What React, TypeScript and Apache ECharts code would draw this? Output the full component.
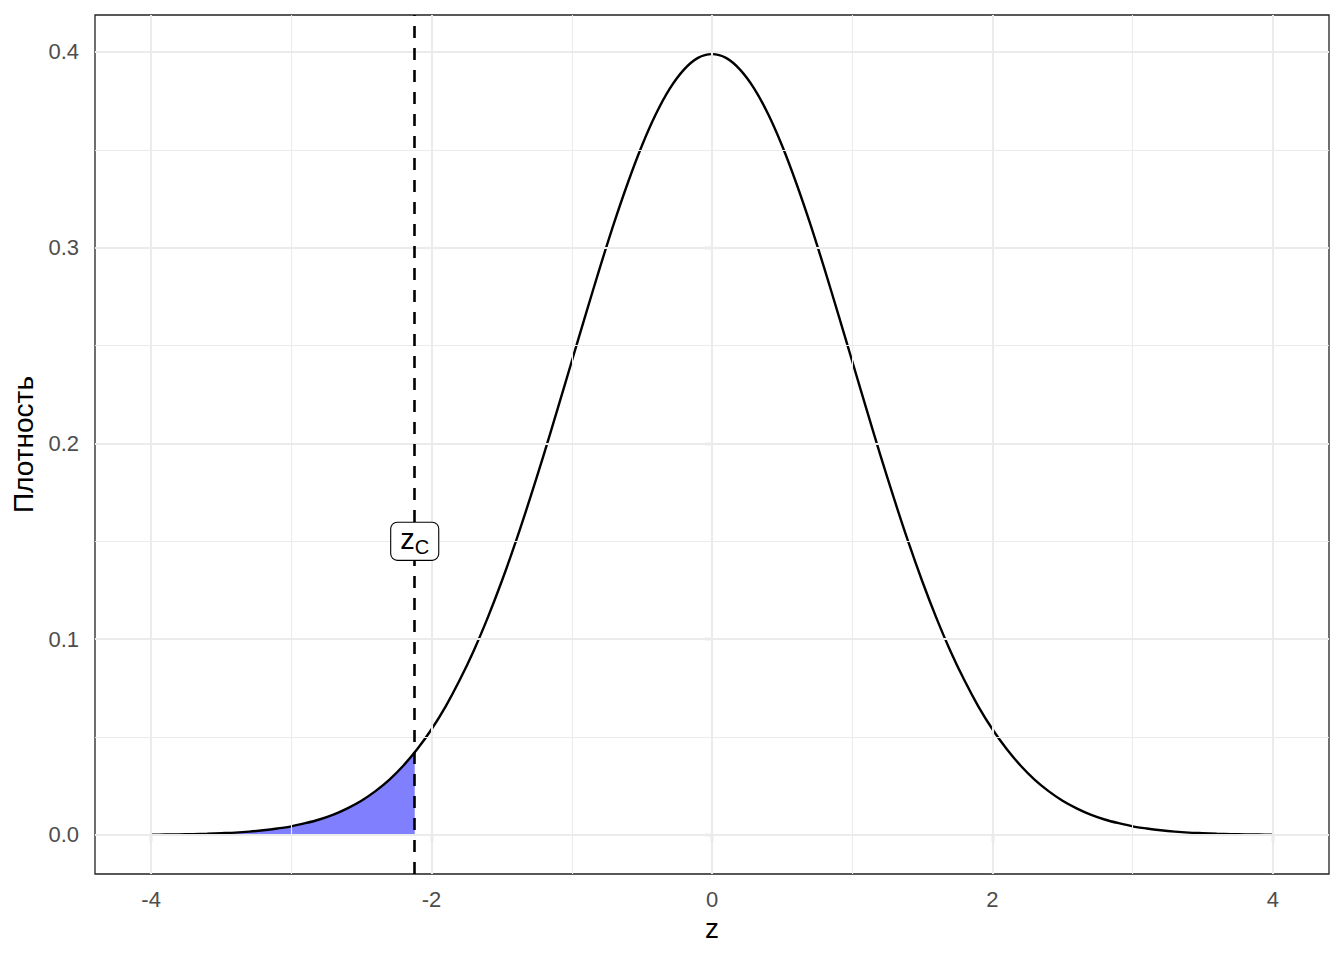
import React, { useEffect, useRef } from "react";
import * as echarts from "echarts";

const zValues = [
  -4.0, -3.9, -3.8, -3.7, -3.6, -3.5, -3.4, -3.3, -3.2, -3.1,
  -3.0, -2.9, -2.8, -2.7, -2.6, -2.5, -2.4, -2.3, -2.2, -2.1,
  -2.0, -1.9, -1.8, -1.7, -1.6, -1.5, -1.4, -1.3, -1.2, -1.1,
  -1.0, -0.9, -0.8, -0.7, -0.6, -0.5, -0.4, -0.3, -0.2, -0.1,
  0.0, 0.1, 0.2, 0.3, 0.4, 0.5, 0.6, 0.7, 0.8, 0.9,
  1.0, 1.1, 1.2, 1.3, 1.4, 1.5, 1.6, 1.7, 1.8, 1.9,
  2.0, 2.1, 2.2, 2.3, 2.4, 2.5, 2.6, 2.7, 2.8, 2.9,
  3.0, 3.1, 3.2, 3.3, 3.4, 3.5, 3.6, 3.7, 3.8, 3.9, 4.0,
];
const density = [
  0.0001, 0.0002, 0.0003, 0.0004, 0.0006, 0.0009, 0.0012, 0.0017, 0.0024, 0.0033,
  0.0044, 0.006, 0.0079, 0.0104, 0.0136, 0.0175, 0.0224, 0.0283, 0.0355, 0.044,
  0.054, 0.0656, 0.079, 0.094, 0.1109, 0.1295, 0.1497, 0.1714, 0.1942, 0.2179,
  0.242, 0.2661, 0.2897, 0.3123, 0.3332, 0.3521, 0.3683, 0.3814, 0.391, 0.397,
  0.3989, 0.397, 0.391, 0.3814, 0.3683, 0.3521, 0.3332, 0.3123, 0.2897, 0.2661,
  0.242, 0.2179, 0.1942, 0.1714, 0.1497, 0.1295, 0.1109, 0.094, 0.079, 0.0656,
  0.054, 0.044, 0.0355, 0.0283, 0.0224, 0.0175, 0.0136, 0.0104, 0.0079, 0.006,
  0.0044, 0.0033, 0.0024, 0.0017, 0.0012, 0.0009, 0.0006, 0.0004, 0.0003, 0.0002, 0.0001,
];
const zCrit = -2.12;
const zCritDensity = 0.0422;
const labelY = 0.15;
const xTicks = [-4, -2, 0, 2, 4];
const xMinor = [-3, -1, 1, 3];
const yTicks = [0, 0.1, 0.2, 0.3, 0.4];
const yMinor = [0.05, 0.15, 0.25, 0.35];

const FONT = "Liberation Sans, Arial, Helvetica, sans-serif";

export default function App() {
  const ref = useRef<HTMLDivElement>(null);
  useEffect(() => {
    if (!ref.current) return;
    const chart = echarts.init(ref.current, null, { renderer: "svg" });
    const curve = zValues.map((z, i) => [z, density[i]]);
    const shade = zValues
      .map((z, i) => [z, density[i]])
      .filter((p) => p[0] <= zCrit);
    shade.push([zCrit, zCritDensity]);

    const major = { color: "#ebebeb", width: 2.1, type: "solid" };
    const minor = { color: "#ebebeb", width: 1.05, type: "solid" };
    const gridLines = [
      ...xMinor.map((v) => ({ xAxis: v, lineStyle: minor })),
      ...yMinor.map((v) => ({ yAxis: v, lineStyle: minor })),
      ...xTicks.map((v) => ({ xAxis: v, lineStyle: major })),
      ...yTicks.map((v) => ({ yAxis: v, lineStyle: major })),
    ];

    chart.setOption({
      animation: false,
      backgroundColor: "#ffffff",
      textStyle: { fontFamily: FONT },
      grid: {
        left: 95,
        right: 15,
        top: 15,
        bottom: 86,
        show: true,
        borderColor: "#222222",
        borderWidth: 1.3,
        backgroundColor: "transparent",
      },
      xAxis: {
        type: "value",
        min: -4.4,
        max: 4.4,
        name: "z",
        nameLocation: "middle",
        nameGap: 40,
        nameTextStyle: { fontSize: 28, color: "#000", fontFamily: FONT },
        axisLine: { show: false },
        splitLine: { show: false },
        axisTick: {
          show: true,
          customValues: xTicks,
          length: 7,
          lineStyle: { color: "#333333", width: 2.1 },
        },
        axisLabel: {
          customValues: xTicks,
          fontSize: 22,
          color: "#4d4d4d",
          margin: 14,
          fontFamily: FONT,
          formatter: (v: number) => String(v),
        },
      },
      yAxis: {
        type: "value",
        min: -0.01995,
        max: 0.4189,
        name: "Плотность",
        nameLocation: "middle",
        nameGap: 58,
        nameRotate: 90,
        nameTextStyle: { fontSize: 28, color: "#000", fontFamily: FONT },
        axisLine: { show: false },
        splitLine: { show: false },
        axisTick: {
          show: true,
          customValues: yTicks,
          length: 7,
          lineStyle: { color: "#333333", width: 2.1 },
        },
        axisLabel: {
          customValues: yTicks,
          fontSize: 22,
          color: "#4d4d4d",
          margin: 16,
          fontFamily: FONT,
          formatter: (v: number) => v.toFixed(1),
        },
      },
      series: [
        {
          type: "line",
          z: 1,
          data: [[0, 0]],
          showSymbol: false,
          symbol: "none",
          lineStyle: { opacity: 0 },
          silent: true,
          markLine: {
            silent: true,
            symbol: ["none", "none"],
            label: { show: false },
            data: gridLines,
          },
        },
        {
          type: "line",
          z: 2,
          data: shade,
          symbol: "none",
          showSymbol: false,
          smooth: 0.3,
          lineStyle: { width: 0, opacity: 0 },
          areaStyle: { color: "#8080ff", opacity: 1, origin: 0 },
          silent: true,
        },
        {
          type: "line",
          z: 3,
          data: curve,
          symbol: "none",
          showSymbol: false,
          smooth: 0.3,
          lineStyle: { color: "#000000", width: 2.4 },
          silent: true,
          markLine: {
            silent: true,
            symbol: ["none", "none"],
            label: { show: false },
            lineStyle: { color: "#000000", width: 2.6, type: [12, 10] },
            data: [{ xAxis: zCrit }],
          },
          markPoint: {
            silent: true,
            symbol: "circle",
            symbolSize: 0,
            data: [
              {
                coord: [zCrit, labelY],
                label: {
                  show: true,
                  position: "inside",
                  formatter: "{a|z}{b|C}",
                  backgroundColor: "#ffffff",
                  borderColor: "#000000",
                  borderWidth: 1.1,
                  borderRadius: 6,
                  padding: [2, 9, 6, 9],
                  rich: {
                    a: { fontSize: 29, color: "#000", fontFamily: FONT, verticalAlign: "top", lineHeight: 29 },
                    b: { fontSize: 20, color: "#000", fontFamily: FONT, verticalAlign: "top", lineHeight: 20, padding: [12, 0, 0, 0] },
                  },
                },
              },
            ],
          },
        },
      ],
    });
    return () => chart.dispose();
  }, []);
  return (
    <div
      ref={ref}
      style={{ position: "fixed", left: 0, top: 0, width: 1344, height: 960 }}
    />
  );
}
